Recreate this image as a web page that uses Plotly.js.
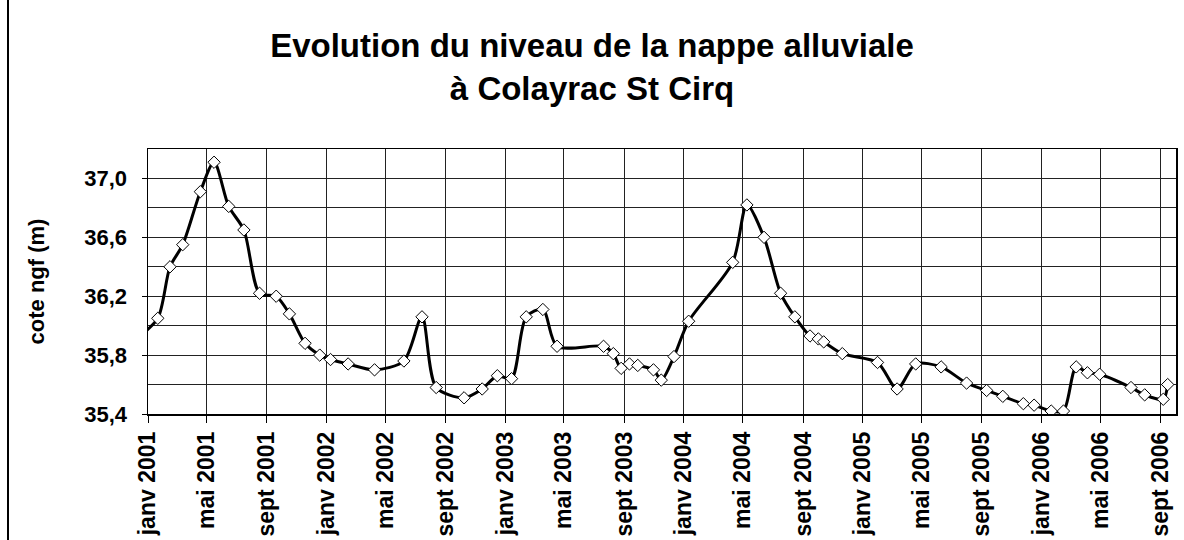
<!DOCTYPE html>
<html>
<head>
<meta charset="utf-8">
<script src="https://cdn.plot.ly/plotly-3.0.1.min.js"></script>
<style>
html,body{margin:0;padding:0;background:#fff;}
#wrap{position:relative;width:1184px;height:540px;overflow:hidden;}
#chart{position:absolute;left:0;top:0;width:1184px;height:540px;}
#frame{position:absolute;left:7px;top:0px;width:1180px;height:560px;border-left:2px solid #000;box-sizing:border-box;pointer-events:none;}
</style>
</head>
<body>
<div id="wrap"><div id="chart"></div><div id="frame"></div></div>
<script>
// Measurement dates and groundwater level (m NGF)
const dates = ['2000-12-11','2001-01-21','2001-02-15','2001-03-13','2001-04-18','2001-05-16','2001-06-15','2001-07-16','2001-08-17','2001-09-20','2001-10-17','2001-11-18','2001-12-18','2002-01-09','2002-02-14','2002-04-09','2002-06-08','2002-07-15','2002-08-13','2002-10-09','2002-11-15','2002-12-16','2003-01-14','2003-02-13','2003-03-19','2003-04-17','2003-07-21','2003-08-10','2003-08-26','2003-09-12','2003-09-29','2003-10-31','2003-11-16','2003-12-12','2004-01-11','2004-04-10','2004-05-09','2004-06-13','2004-07-17','2004-08-15','2004-09-15','2004-10-02','2004-10-13','2004-11-20','2005-01-31','2005-03-12','2005-04-19','2005-06-10','2005-08-01','2005-09-11','2005-10-14','2005-11-25','2005-12-17','2006-01-21','2006-02-15','2006-03-13','2006-04-05','2006-04-30','2006-07-03','2006-07-31','2006-09-07','2006-09-16'];
const levels = [35.92,36.05,36.40,36.55,36.91,37.11,36.81,36.65,36.22,36.20,36.08,35.88,35.80,35.77,35.74,35.70,35.76,36.06,35.58,35.51,35.57,35.66,35.64,36.06,36.11,35.86,35.86,35.81,35.71,35.74,35.73,35.70,35.63,35.79,36.03,36.43,36.82,36.60,36.22,36.06,35.93,35.91,35.89,35.81,35.75,35.57,35.74,35.72,35.61,35.56,35.52,35.47,35.46,35.42,35.42,35.72,35.68,35.67,35.58,35.53,35.50,35.60];

const tickDates = ['2001-01-01','2001-05-01','2001-09-01','2002-01-01','2002-05-01','2002-09-01','2003-01-01','2003-05-01','2003-09-01','2004-01-01','2004-05-01','2004-09-01','2005-01-01','2005-05-01','2005-09-01','2006-01-01','2006-05-01','2006-09-01'];
const tickLabels = ['janv 2001','mai 2001','sept 2001','janv 2002','mai 2002','sept 2002','janv 2003','mai 2003','sept 2003','janv 2004','mai 2004','sept 2004','janv 2005','mai 2005','sept 2005','janv 2006','mai 2006','sept 2006'];
const yTicks = [35.4,35.8,36.2,36.6,37.0];
const yTickLabels = ['35,4','35,8','36,2','36,6','37,0'];

const fontFam = '"Liberation Sans", Arial, sans-serif';

const trace = {
  x: dates, y: levels, type: 'scatter', mode: 'lines+markers',
  line: {color: '#000', width: 3, shape: 'spline', smoothing: 0.8},
  marker: {symbol: 'diamond', size: 9.5, color: '#fff', line: {color: '#000', width: 1}},
  hoverinfo: 'x+y'
};

const layout = {
  width: 1184, height: 540,
  margin: {l: 148, r: 8, t: 149, b: 126},
  paper_bgcolor: '#fff', plot_bgcolor: '#fff',
  font: {family: fontFam, color: '#000'},
  showlegend: false,
  title: {
    text: '<b>Evolution du niveau de la nappe alluviale<br>à Colayrac St Cirq</b>',
    font: {family: fontFam, size: 33, color: '#000'},
    x: 0.5, xref: 'container', xanchor: 'center',
    y: 0.894, yref: 'container', yanchor: 'top'
  },
  xaxis: {
    type: 'date',
    range: ['2001-01-01', '2006-10-03'],
    tickmode: 'array', tickvals: tickDates, ticktext: tickLabels,
    tickangle: -90,
    tickfont: {family: fontFam, size: 23, color: '#000', weight: 'bold'},
    ticks: 'outside', ticklen: 7, tickcolor: '#000', tickwidth: 1,
    showgrid: true, gridcolor: '#222', gridwidth: 1,
    showline: true, linecolor: '#000', linewidth: 1.5, mirror: true,
    zeroline: false, automargin: false
  },
  yaxis: {
    range: [35.4, 37.2],
    tickmode: 'array', tickvals: yTicks, ticktext: yTickLabels,
    tickfont: {family: fontFam, size: 22, color: '#000', weight: 'bold'},
    ticks: 'outside', ticklen: 5, tickcolor: '#000', tickwidth: 1,
    ticklabelstandoff: 10,
    showgrid: true, gridcolor: '#222', gridwidth: 1,
    minor: {dtick: 0.2, tick0: 35.4, showgrid: true, gridcolor: '#222', gridwidth: 1, ticks: ''},
    showline: true, linecolor: '#000', linewidth: 1.5, mirror: true,
    zeroline: false, automargin: false,
    title: {text: '<b>cote ngf (m)</b>', font: {family: fontFam, size: 22, color: '#000'}, standoff: 33}
  }
};

Plotly.newPlot('chart', [trace], layout, {displayModeBar: false, staticPlot: true});
</script>
</body>
</html>
